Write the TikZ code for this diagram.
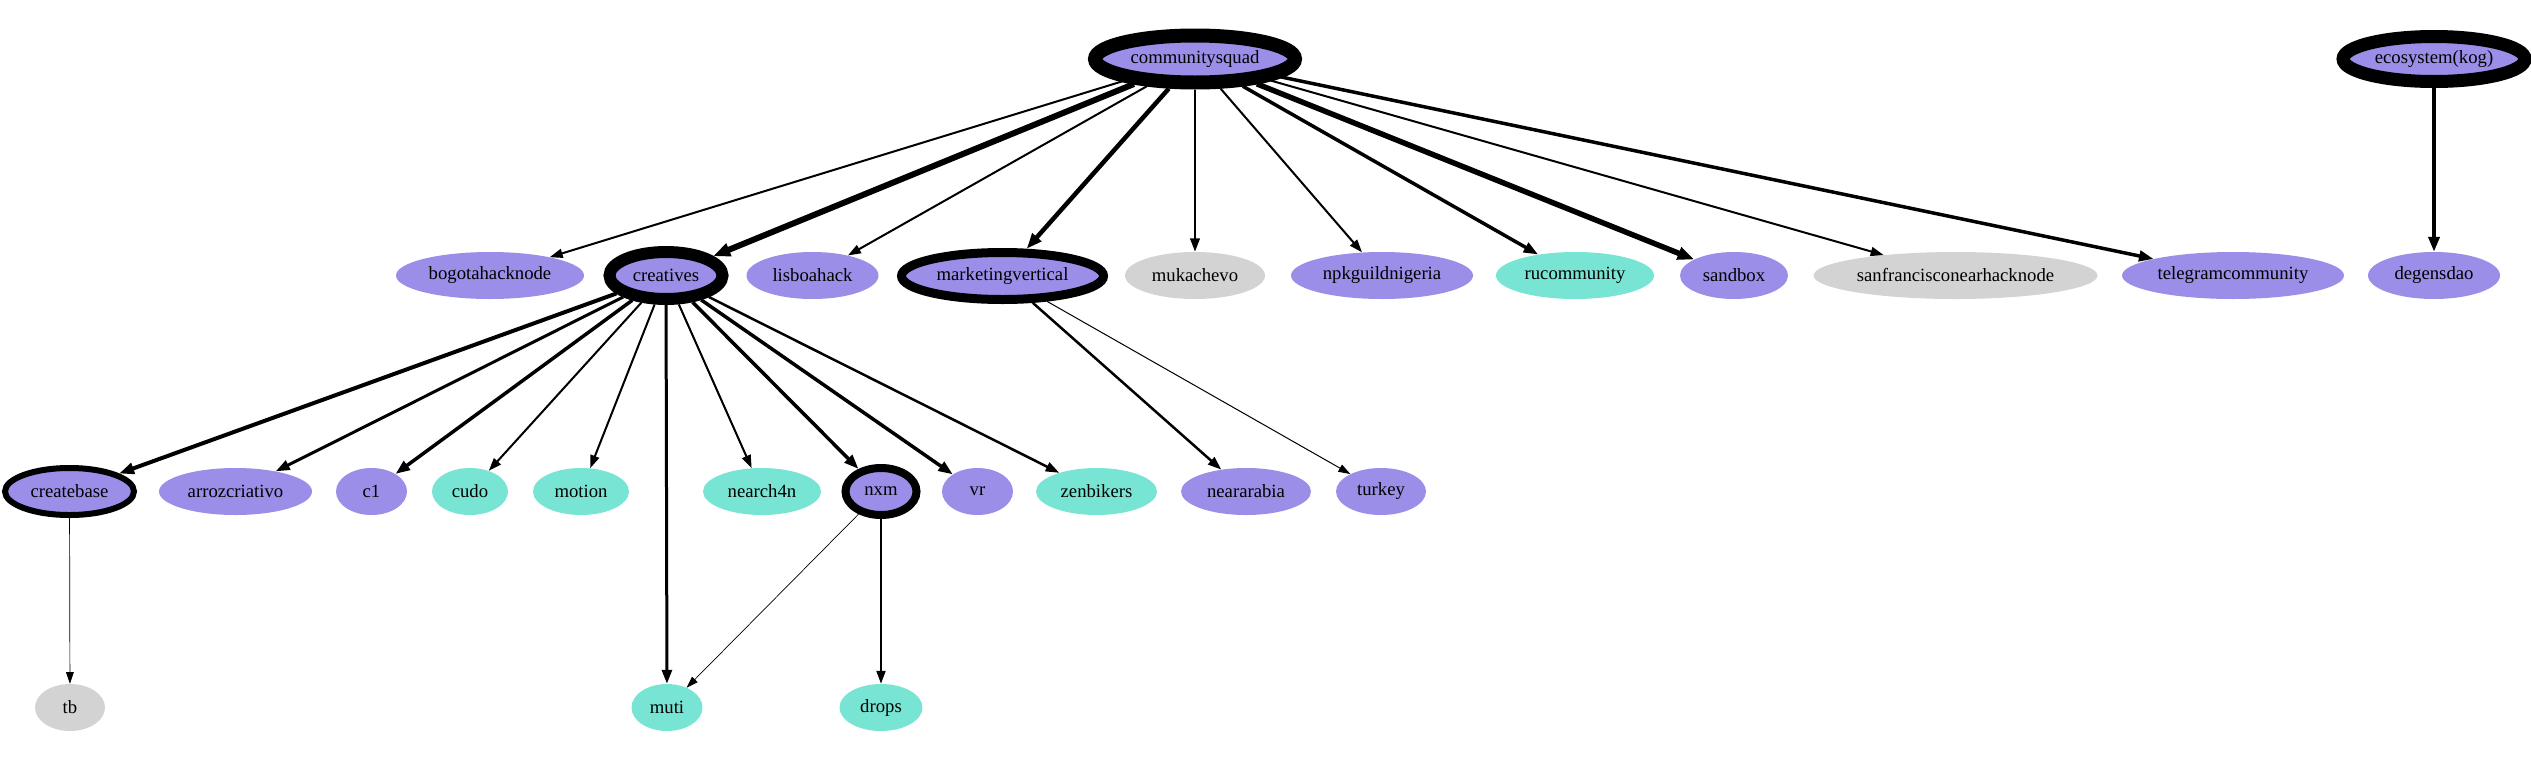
\documentclass[tikz,border=0pt]{standalone}
\usepackage{fontspec}
\setmainfont{Liberation Serif}
\usetikzlibrary{shapes.geometric,arrows.meta}
\definecolor{vpurple}{RGB}{154,142,232}
\definecolor{vturq}{RGB}{120,229,212}
\definecolor{vgrey}{RGB}{211,211,211}
\begin{document}
\begin{tikzpicture}[x=1pt,y=-1pt,
  gnode/.style={ellipse, inner sep=0pt, minimum height=47pt, font=\fontsize{18.7}{22}\selectfont},
  pnode/.style={gnode, fill=vpurple},
  tnode/.style={gnode, fill=vturq},
  gynode/.style={gnode, fill=vgrey},
  edge/.style={-{Triangle[length=11pt 1,width=7pt 1]}, black},
]
\useasboundingbox (0,0) rectangle (2531,766);
% top
\node[pnode, draw, line width=14pt, minimum width=200pt] (cs) at (1195,59) {communitysquad};
\node[pnode, draw, line width=13pt, minimum width=182pt, minimum height=45pt] (eco) at (2434,59) {ecosystem(kog)};
% row 2
\node[pnode, minimum width=188pt] (bogota) at (490,275.5) {bogotahacknode};
\node[pnode, draw, line width=12pt, minimum width=113pt] (creatives) at (666,275.5) {creatives};
\node[pnode, minimum width=132pt] (lisboa) at (812.5,275.5) {lisboahack};
\node[pnode, draw, line width=9pt, minimum width=202pt] (marketing) at (1002.5,276) {marketingvertical};
\node[gynode, minimum width=140pt] (mukachevo) at (1195,275.5) {mukachevo};
\node[pnode, minimum width=182pt] (npk) at (1382,275.5) {npkguildnigeria};
\node[tnode, minimum width=158pt] (ru) at (1575,275.5) {rucommunity};
\node[pnode, minimum width=108pt] (sandbox) at (1734,275.5) {sandbox};
\node[gynode, minimum width=284pt] (sanfran) at (1955.5,275.5) {sanfrancisconearhacknode};
\node[pnode, minimum width=222pt] (telegram) at (2233,275.5) {telegramcommunity};
\node[pnode, minimum width=132pt] (degens) at (2434,275.5) {degensdao};
% row 3
\node[pnode, draw, line width=6pt, minimum width=129pt] (createbase) at (69.5,491.5) {createbase};
\node[pnode, minimum width=153pt] (arroz) at (235.5,491.5) {arrozcriativo};
\node[pnode, minimum width=71pt] (c1) at (371.5,491.5) {c1};
\node[tnode, minimum width=76pt] (cudo) at (470,491.5) {cudo};
\node[tnode, minimum width=96pt] (motion) at (581,491.5) {motion};
\node[tnode, minimum width=118pt] (nearch) at (762,491.5) {nearch4n};
\node[pnode, draw, line width=8pt, minimum width=71pt] (nxm) at (881,491.5) {nxm};
\node[pnode, minimum width=71pt] (vr) at (977.5,491.5) {vr};
\node[tnode, minimum width=121pt] (zen) at (1096.5,491.5) {zenbikers};
\node[pnode, minimum width=130pt] (neararabia) at (1246,491.5) {neararabia};
\node[pnode, minimum width=90pt] (turkey) at (1381,491.5) {turkey};
% row 4
\node[gynode, minimum width=70pt] (tb) at (70,707.5) {tb};
\node[tnode, minimum width=71pt] (muti) at (667,707.5) {muti};
\node[tnode, minimum width=83pt] (drops) at (881,707.5) {drops};
% edges from communitysquad
\draw[edge, line width=2pt] (cs) -- (bogota);
\draw[edge, line width=6pt] (cs) -- (creatives);
\draw[edge, line width=2pt] (cs) -- (lisboa);
\draw[edge, line width=4.5pt] (cs) -- (marketing);
\draw[edge, line width=2.5pt] (cs) -- (mukachevo);
\draw[edge, line width=2pt] (cs) -- (npk);
\draw[edge, line width=3.5pt] (cs) -- (ru);
\draw[edge, line width=5.5pt] (cs) -- (sandbox);
\draw[edge, line width=2pt] (cs) -- (sanfran);
\draw[edge, line width=3.5pt] (cs) -- (telegram);
\draw[edge, line width=4pt] (eco) -- (degens);
% edges from creatives
\draw[edge, line width=4pt] (creatives) -- (createbase);
\draw[edge, line width=3pt] (creatives) -- (arroz);
\draw[edge, line width=3.5pt] (creatives) -- (c1);
\draw[edge, line width=2pt] (creatives) -- (cudo);
\draw[edge, line width=2pt] (creatives) -- (motion);
\draw[edge, line width=3pt] (creatives) -- (muti);
\draw[edge, line width=2pt] (creatives) -- (nearch);
\draw[edge, line width=3.5pt] (creatives) -- (nxm);
\draw[edge, line width=3.5pt] (creatives) -- (vr);
\draw[edge, line width=2.5pt] (creatives) -- (zen);
% marketing
\draw[edge, line width=2.5pt] (marketing) -- (neararabia);
\draw[edge, line width=1pt] (marketing) -- (turkey);
% lower
\draw[edge, line width=0.7pt] (createbase) -- (tb);
\draw[edge, line width=0.7pt] (nxm) -- (muti);
\draw[edge, line width=2pt] (nxm) -- (drops);
\end{tikzpicture}
\end{document}
